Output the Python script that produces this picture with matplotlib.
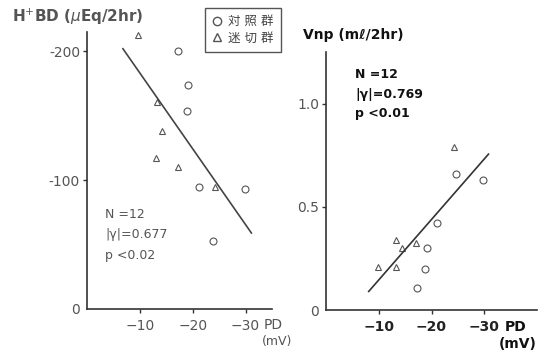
import numpy as np
import matplotlib
matplotlib.use("Agg")
import matplotlib.pyplot as plt
from matplotlib.lines import Line2D

plt.rcParams['font.family'] = ['DejaVu Sans', 'Noto Sans CJK JP']

# 左: H+BD vs PD
l_ctrl_pd = [-17.2, -19.2, -18.9, -21.1, -29.8, -23.8]
l_ctrl_bd = [-200, -174, -154, -95, -93, -53]
l_vag_pd = [-9.6, -13.2, -14.2, -13.0, -17.3, -24.3]
l_vag_bd = [-213, -161, -138, -117, -110, -95]
l_fit_pd = [-6.8, -31.1]
l_fit_bd = [-202, -59]
l_stats = ["N =12", "|γ|=0.677", "p <0.02"]

# 右: Vnp vs PD
r_ctrl_pd = [-24.7, -29.8, -21.1, -19.2, -18.7, -17.2]
r_ctrl_v = [0.66, 0.63, 0.42, 0.30, 0.197, 0.106]
r_vag_pd = [-24.2, -13.2, -14.4, -17.0, -9.8, -13.2]
r_vag_v = [0.79, 0.337, 0.30, 0.327, 0.207, 0.207]
r_fit_pd = [-8.1, -30.8]
r_fit_v = [0.09, 0.755]
r_stats = ["N =12", "|γ|=0.769", "p <0.01"]

x_ticks = [-10, -20, -30]
x_ticklabels = ["−10", "−20", "−30"]
l_yticks = [0, -100, -200]
l_yticklabels = ["0", "-100", "-200"]
r_yticks = [0, 0.5, 1.0]
r_yticklabels = ["0", "0.5", "1.0"]
legend_labels = ["対 照 群", "迷 切 群"]

W, H = 542, 352
fig = plt.figure(figsize=(W / 100, H / 100), dpi=100)


def px_box(x0, x1, ytop, ybot):
    return [x0 / W, 1 - ybot / H, (x1 - x0) / W, (ybot - ytop) / H]


def style_axes(ax, col, weight):
    for s in ['top', 'right']:
        ax.spines[s].set_visible(False)
    for s in ['left', 'bottom']:
        ax.spines[s].set_linewidth(1.2)
        ax.spines[s].set_color('#333333')
    ax.tick_params(direction='out', length=3, width=1, color='#333333',
                   labelsize=10, labelcolor=col, pad=2)
    ax.tick_params(axis='x', pad=4)
    for t in ax.get_xticklabels():
        t.set_fontweight(weight)


mk = dict(linestyle='none', markersize=5, markerfacecolor='none',
          markeredgewidth=0.8, clip_on=False)

# 左パネル
ax1 = fig.add_axes(px_box(87, 272, 32, 309))
ax1.plot(l_ctrl_pd, l_ctrl_bd, marker='o', markeredgecolor='#555555', **mk)
ax1.plot(l_vag_pd, l_vag_bd, marker='^', markeredgecolor='#555555', **mk)
ax1.plot(l_fit_pd, l_fit_bd, color='#444444', lw=1.2, clip_on=False)
ax1.set_xlim(0, -35)
ax1.set_ylim(0, -215)
ax1.set_xticks(x_ticks)
ax1.set_xticklabels(x_ticklabels)
ax1.set_yticks(l_yticks)
ax1.set_yticklabels(l_yticklabels)
style_axes(ax1, '#555555', 'normal')
ax1.yaxis.get_major_ticks()[0].tick1line.set_visible(False)
for i, s in enumerate(l_stats):
    fig.text(105 / W, 1 - (214 + 20.5 * i) / H, s, fontsize=9,
             color='#555555', va='center')
fig.text(12 / W, 1 - 17 / H, r"H$^{+}$BD ($\mu$Eq/2hr)", fontsize=11,
         color='#555555', va='center', fontweight='bold')
fig.text(264 / W, 1 - 325 / H, "PD", fontsize=10, color='#555555', va='center')
fig.text(262 / W, 1 - 341 / H, "(mV)", fontsize=9, color='#555555', va='center')

# 右パネル
ax2 = fig.add_axes(px_box(326, 537, 52, 310))
ax2.plot(r_ctrl_pd, r_ctrl_v, marker='o', markeredgecolor='#555555', **mk)
ax2.plot(r_vag_pd, r_vag_v, marker='^', markeredgecolor='#555555', **mk)
ax2.plot(r_fit_pd, r_fit_v, color='#333333', lw=1.2)
ax2.set_xlim(0, -40)
ax2.set_ylim(0, 1.25)
ax2.set_xticks(x_ticks)
ax2.set_xticklabels(x_ticklabels)
ax2.set_yticks(r_yticks)
ax2.set_yticklabels(r_yticklabels)
style_axes(ax2, '#222222', 'bold')
ax2.yaxis.get_major_ticks()[0].tick1line.set_visible(False)
ax2.set_yticklabels(r_yticklabels, color='#555555')
for i, s in enumerate(r_stats):
    fig.text(355 / W, 1 - (75 + 19.5 * i) / H, s, fontsize=9,
             color='#111111', va='center', fontweight='bold')
fig.text(303 / W, 1 - 35 / H, "Vnp (mℓ/2hr)", fontsize=10,
         color='#111111', va='center', fontweight='bold')
fig.text(505 / W, 1 - 327 / H, "PD", fontsize=10, color='#111111',
         va='center', fontweight='bold')
fig.text(499 / W, 1 - 344 / H, "(mV)", fontsize=10, color='#111111',
         va='center', fontweight='bold')

# 凡例
handles = [Line2D([], [], marker='o', linestyle='none', markersize=6,
                  markerfacecolor='none', markeredgecolor='#555555'),
           Line2D([], [], marker='^', linestyle='none', markersize=6,
                  markerfacecolor='none', markeredgecolor='#555555')]
leg = fig.legend(handles, legend_labels, loc='upper left',
                 bbox_to_anchor=(205 / W, 1 - 8 / H), borderaxespad=0,
                 fancybox=False, framealpha=1, edgecolor='#555555',
                 fontsize=9, handlelength=0.8, handletextpad=0.5,
                 labelspacing=0.3, borderpad=0.55, labelcolor='#444444')
leg.get_frame().set_linewidth(1.0)

fig.savefig("out.png", dpi=100)
